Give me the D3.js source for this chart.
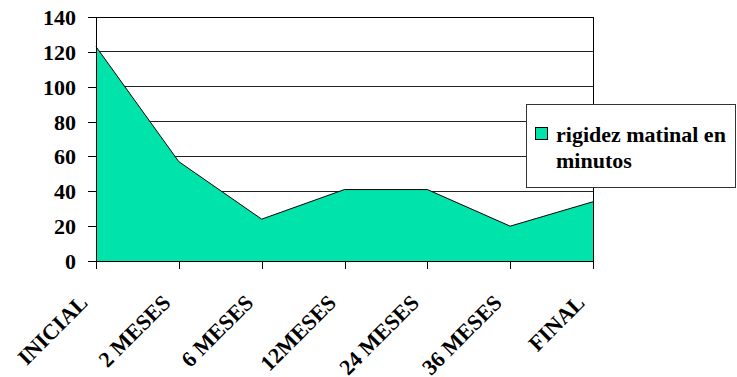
<!DOCTYPE html>
<html>
<head>
<meta charset="utf-8">
<script src="https://cdn.jsdelivr.net/npm/d3@7"></script>
<style>
  html, body { margin: 0; padding: 0; background: #fff; }
  svg { display: block; }
  svg text { font-family: "Liberation Serif", "Times New Roman", Times, "DejaVu Serif", serif !important; font-weight: bold; fill: #000; }
</style>
</head>
<body>
<svg id="chart" width="737" height="377"></svg>
<script>
// Morning stiffness (minutes) over the follow-up visits
const categories = ["INICIAL", "2 MESES", "6 MESES", "12MESES", "24 MESES", "36 MESES", "FINAL"];
const stiffness = [123, 57, 24, 41, 41, 20, 34];
const yTicks = [0, 20, 40, 60, 80, 100, 120, 140];
const seriesName = ["rigidez matinal en", "minutos"];

const svg = d3.select("#chart");
const plot = { left: 96, right: 593, top: 17, bottom: 261 };
const fillColor = "#00E3AA";

const x = d3.scalePoint().domain(categories).range([plot.left, plot.right]);
const y = d3.scaleLinear().domain([0, 140]).range([plot.bottom, plot.top]);

// horizontal gridlines
svg.append("g")
  .selectAll("line")
  .data(yTicks.filter(v => v > 0))
  .join("line")
  .attr("x1", plot.left).attr("x2", plot.right)
  .attr("y1", d => y(d)).attr("y2", d => y(d))
  .attr("stroke", "#222").attr("stroke-width", 1)
  .attr("shape-rendering", "crispEdges");

// right border of the plot area
svg.append("line")
  .attr("x1", plot.right).attr("x2", plot.right)
  .attr("y1", plot.top).attr("y2", plot.bottom)
  .attr("stroke", "#000").attr("shape-rendering", "crispEdges");

// area series
const area = d3.area()
  .x((d, i) => x(categories[i]))
  .y0(y(0))
  .y1(d => y(d));
const line = d3.line()
  .x((d, i) => x(categories[i]))
  .y(d => y(d));

svg.append("path")
  .datum(stiffness)
  .attr("d", area)
  .attr("fill", fillColor);
svg.append("path")
  .datum(stiffness)
  .attr("d", line)
  .attr("fill", "none")
  .attr("stroke", "#000")
  .attr("stroke-width", 1);

// y axis
const yAxis = d3.axisLeft(y).tickValues(yTicks).tickSize(8).tickPadding(12);
const gy = svg.append("g")
  .attr("transform", `translate(${plot.left},0)`)
  .call(yAxis)
  .attr("font-family", null)
  .attr("font-size", 22);
gy.select(".domain").attr("stroke", "#000").attr("shape-rendering", "crispEdges");
gy.selectAll(".tick line").attr("stroke", "#000").attr("shape-rendering", "crispEdges");
gy.selectAll(".tick text").attr("dy", "0.34em");

// x axis
const xAxis = d3.axisBottom(x).tickSize(8).tickFormat("");
const gx = svg.append("g")
  .attr("transform", `translate(0,${plot.bottom})`)
  .call(xAxis);
gx.select(".domain").attr("stroke", "#000").attr("d", `M${plot.left},0H${plot.right}`)
  .attr("shape-rendering", "crispEdges");
gx.selectAll(".tick line").attr("stroke", "#000").attr("shape-rendering", "crispEdges");

// rotated category labels
svg.append("g")
  .attr("font-size", 22)
  .selectAll("text")
  .data(categories)
  .join("text")
  .attr("transform", d => `translate(${x(d) - 7},304) rotate(-45)`)
  .attr("text-anchor", "end")
  .text(d => d);

// top border of the plot area
svg.append("line")
  .attr("x1", plot.left).attr("x2", plot.right)
  .attr("y1", plot.top).attr("y2", plot.top)
  .attr("stroke", "#000").attr("shape-rendering", "crispEdges");

// legend
const lg = svg.append("g");
lg.append("rect")
  .attr("x", 526.5).attr("y", 104.5)
  .attr("width", 209).attr("height", 83)
  .attr("fill", "#fff").attr("stroke", "#333");
lg.append("rect")
  .attr("x", 535.5).attr("y", 127.5)
  .attr("width", 12).attr("height", 12)
  .attr("fill", fillColor).attr("stroke", "#000");
lg.append("text")
  .attr("font-size", 22)
  .selectAll("tspan")
  .data(seriesName)
  .join("tspan")
  .attr("x", 556)
  .attr("y", (d, i) => 142 + i * 26)
  .text(d => d);
</script>
</body>
</html>
